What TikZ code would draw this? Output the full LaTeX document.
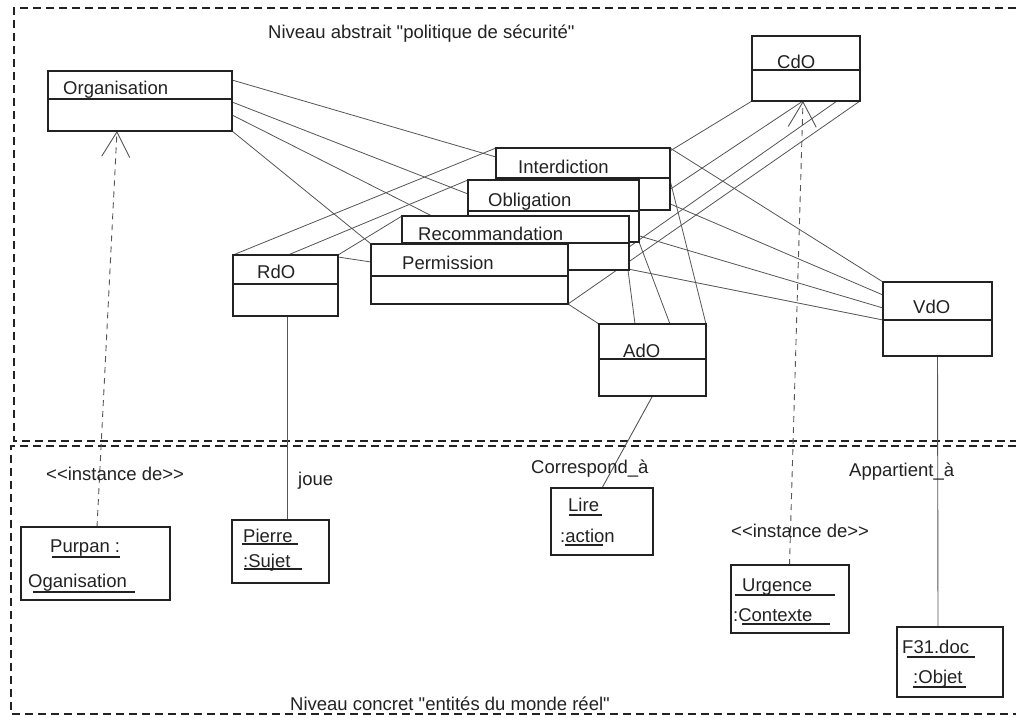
\documentclass[tikz,border=0pt]{standalone}
\usepackage{fontspec}
\newfontfamily\diagfont{Liberation Sans}
\usetikzlibrary{arrows.meta}
\definecolor{ink}{HTML}{222222}
\definecolor{wire}{HTML}{555555}
\tikzset{
  umlbox/.style={draw=ink, line width=1.3pt, fill=white, inner sep=0pt, outer sep=0pt, anchor=north west},
  divider/.style={draw=ink, line width=1.3pt},
  lbl/.style={text=ink, inner sep=0pt, anchor=base west, font=\diagfont\fontsize{18.5}{22}\selectfont},
  assoc/.style={draw=wire, line width=0.8pt},
  link/.style={draw=wire, line width=0.9pt},
  instof/.style={draw=wire, line width=0.9pt, dash pattern=on 6pt off 5pt,
    -{Straight Barb[length=25pt,width=28pt,line width=0.9pt]}},
  frame/.style={draw=ink, line width=1.4pt, dash pattern=on 8pt off 5pt},
  uline/.style={draw=ink, line width=1.2pt}
}
% class box: name, x1, y1, x2, y2, divider y
\newcommand\classbox[6]{%
  \node[umlbox, minimum width={#4-#2}, minimum height={#5-#3}] (#1) at (#2,#3) {};
  \draw[divider] (#2,#6) -- (#4,#6);
}
% object box: name, x1, y1, x2, y2
\newcommand\objbox[5]{%
  \node[umlbox, line width=1.1pt, minimum width={#4-#2}, minimum height={#5-#3}] (#1) at (#2,#3) {};
}
\begin{document}
\begin{tikzpicture}[x=1pt,y=-1pt]
\useasboundingbox (0,0) rectangle (1016,720);
\fill[white] (0,0) rectangle (1016,720);

% level frames
\draw[frame] (1016,8) -- (14,8) -- (14,441) -- (1016,441);
\draw[frame] (1016,446) -- (11,446) -- (11,714) -- (1016,714);

\node[lbl] (toptitle) at (268,38) {Niveau abstrait "politique de sécurité"};
\node[lbl] (bottitle) at (290,710) {Niveau concret "entités du monde réel"};

% placeholders so that connectors can be drawn first
\begin{scope}[opacity=0]
\classbox{org}{48}{71}{232}{131}{99}
\classbox{cdo}{752}{36}{860}{101}{70}
\classbox{inter}{496}{148}{670}{210}{178}
\classbox{oblig}{468}{180}{639}{242}{211}
\classbox{recom}{402}{216}{629}{270}{243}
\classbox{perm}{371}{244}{568}{304}{276}
\classbox{rdo}{233}{255}{338}{316}{284}
\classbox{ado}{599}{324}{706}{396}{359}
\classbox{vdo}{883}{282}{992}{356}{320}
\objbox{purpan}{21}{527}{170}{600}
\objbox{pierre}{232}{520}{329}{583}
\objbox{lire}{551}{488}{653}{555}
\objbox{urgence}{731}{565}{849}{633}
\objbox{fdoc}{897}{627}{1003}{697}
\end{scope}

% associations: Organisation
\draw[assoc] ([yshift=-9pt]org.north east) -- ([yshift=-9pt]inter.north west);
\draw[assoc] ([yshift=-31pt]org.north east) -- ([yshift=-14pt]oblig.north west);
\draw[assoc] ([yshift=-44pt]org.north east) -- ([xshift=30pt]recom.north west);
\draw[assoc] (org.south east) -- (perm.north west);
% associations: RdO
\draw[assoc] (rdo.north west) -- (inter.north west);
\draw[assoc] ([xshift=55pt]rdo.north west) -- (oblig.north west);
\draw[assoc] (rdo.north east) -- (recom.north west);
\draw[assoc] ([yshift=-2pt]rdo.north east) -- ([yshift=-18pt]perm.north west);
% associations: CdO
\draw[assoc] (cdo.south west) -- ([yshift=-3pt]inter.north east);
\draw[assoc] ([xshift=51pt]cdo.south west) -- ([yshift=32pt]oblig.south east);
\draw[assoc] ([xshift=-23pt]cdo.south east) -- ([yshift=-31pt]recom.north east);
\draw[assoc] (cdo.south east) -- (perm.south east);
% associations: VdO
\draw[assoc] (inter.north east) -- (vdo.north west);
\draw[assoc] ([xshift=-6pt,yshift=-8pt]oblig.north east) -- ([yshift=-13pt]vdo.north west);
\draw[assoc] ([xshift=-3pt,yshift=-16pt]recom.north east) -- ([yshift=-26pt]vdo.north west);
\draw[assoc] ([yshift=-13pt]perm.north east) -- ([yshift=-38pt]vdo.north west);
% associations: AdO
\draw[assoc] (perm.south east) -- (ado.north west);
\draw[assoc] ([xshift=-1pt]recom.south east) -- ([xshift=36pt]ado.north west);
\draw[assoc] (oblig.south east) -- ([xshift=71pt]ado.north west);
\draw[assoc] ([yshift=-32pt]inter.north east) -- (ado.north east);

% instance links
\draw[instof] ([xshift=1.5pt]purpan.north) -- ([xshift=69pt]org.south west);
\draw[instof] ([xshift=-0.5pt]urgence.north) -- ([xshift=51pt]cdo.south west);
\draw[link] ([xshift=1.5pt]rdo.south) -- ([xshift=6.5pt]pierre.north);
\draw[link] (ado.south) -- (lire.north);
\draw[link] (vdo.south) -- ([xshift=-12pt]fdoc.north);

% class boxes, stacked back to front
\classbox{org}{48}{71}{232}{131}{99}
\classbox{cdo}{752}{36}{860}{101}{70}
\classbox{inter}{496}{148}{670}{210}{178}
\classbox{oblig}{468}{180}{639}{242}{211}
\classbox{recom}{402}{216}{629}{270}{243}
\classbox{perm}{371}{244}{568}{304}{276}
\classbox{rdo}{233}{255}{338}{316}{284}
\classbox{ado}{599}{324}{706}{396}{359}
\classbox{vdo}{883}{282}{992}{356}{320}

\node[lbl] (orgname) at (63,94) {Organisation};
\node[lbl] (cdoname) at (777,68) {CdO};
\node[lbl] (intername) at (518,173) {Interdiction};
\node[lbl] (obligname) at (488,206) {Obligation};
\node[lbl] (recomname) at (418,240) {Recommandation};
\node[lbl] (permname) at (402,269) {Permission};
\node[lbl] (rdoname) at (257,278) {RdO};
\node[lbl] (adoname) at (623,357) {AdO};
\node[lbl] (vdoname) at (913,313) {VdO};

% object boxes
\objbox{purpan}{21}{527}{170}{600}
\objbox{pierre}{232}{520}{329}{583}
\objbox{lire}{551}{488}{653}{555}
\objbox{urgence}{731}{565}{849}{633}
\objbox{fdoc}{897}{627}{1003}{697}

\node[lbl] (purpan1) at (50,552) {Purpan :};
\node[lbl] (purpan2) at (28,587) {Oganisation};
\draw[uline] (52,557) -- (120,557);
\draw[uline] (33,592) -- (135,592);
\node[lbl] (pierre1) at (243,542) {Pierre};
\node[lbl] (pierre2) at (243,567) {:Sujet};
\draw[uline] (242,544) -- (298,544);
\draw[uline] (244,569) -- (302,569);
\node[lbl] (lire1) at (568,511) {Lire};
\node[lbl] (lire2) at (560,542) {:action};
\draw[uline] (569,515) -- (602,515);
\draw[uline] (565,545) -- (603,545);
\node[lbl] (urg1) at (742,591) {Urgence};
\node[lbl] (urg2) at (733,621) {:Contexte};
\draw[uline] (735,595) -- (835,595);
\draw[uline] (742,624) -- (830,624);
\node[lbl] (doc1) at (902,653) {F31.doc};
\node[lbl] (doc2) at (913,683) {:Objet};
\draw[uline] (907,657) -- (975,657);
\draw[uline] (913,687) -- (966,687);

% link labels
\node[lbl] (inst1) at (46,480) {<<instance de>>};
\node[lbl] (joue) at (298,485) {joue};
\node[lbl] (corr) at (531,473) {Correspond\_à};
\node[lbl] (appart) at (849,476) {Appartient\_à};
\node[lbl] (inst2) at (731,537) {<<instance de>>};
\end{tikzpicture}
\end{document}
